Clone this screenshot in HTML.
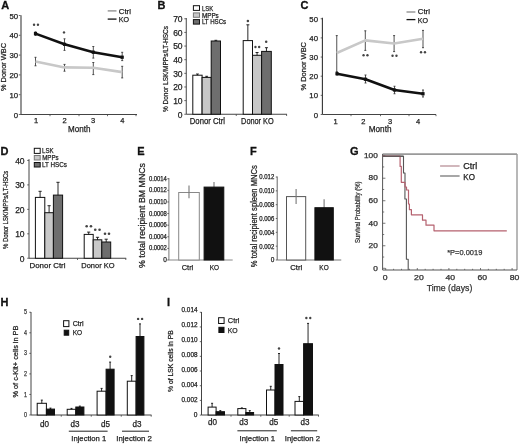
<!DOCTYPE html>
<html><head><meta charset="utf-8"><style>
html,body{margin:0;padding:0;background:#fff;}
svg{display:block;}
text{font-family:"Liberation Sans", sans-serif;}
svg{will-change:transform;}
</style></head><body>
<svg width="520" height="444" viewBox="0 0 520 444">
<rect width="520" height="444" fill="#fff"/>
<text x="1.2" y="9.00" font-size="11" text-anchor="start" fill="#111" stroke="#111" stroke-width="0.3" font-weight="bold">A</text>
<line x1="21.0" y1="15.2" x2="21.0" y2="114.5" stroke="#7a7a7a" stroke-width="1.6"/>
<line x1="20.3" y1="114.5" x2="137" y2="114.5" stroke="#444" stroke-width="1.1"/>
<text x="18.1" y="18.63" font-size="7.8" text-anchor="end" fill="#222" stroke="#222" stroke-width="0.25">50</text>
<line x1="18.8" y1="15.5" x2="20.5" y2="15.5" stroke="#444" stroke-width="0.8"/>
<text x="18.1" y="38.43" font-size="7.8" text-anchor="end" fill="#222" stroke="#222" stroke-width="0.25">40</text>
<line x1="18.8" y1="35.3" x2="20.5" y2="35.3" stroke="#444" stroke-width="0.8"/>
<text x="18.1" y="58.23" font-size="7.8" text-anchor="end" fill="#222" stroke="#222" stroke-width="0.25">30</text>
<line x1="18.8" y1="55.1" x2="20.5" y2="55.1" stroke="#444" stroke-width="0.8"/>
<text x="18.1" y="78.03" font-size="7.8" text-anchor="end" fill="#222" stroke="#222" stroke-width="0.25">20</text>
<line x1="18.8" y1="74.9" x2="20.5" y2="74.9" stroke="#444" stroke-width="0.8"/>
<text x="18.1" y="97.83" font-size="7.8" text-anchor="end" fill="#222" stroke="#222" stroke-width="0.25">10</text>
<line x1="18.8" y1="94.7" x2="20.5" y2="94.7" stroke="#444" stroke-width="0.8"/>
<text x="18.1" y="117.63" font-size="7.8" text-anchor="end" fill="#222" stroke="#222" stroke-width="0.25">0</text>
<line x1="18.8" y1="114.5" x2="20.5" y2="114.5" stroke="#444" stroke-width="0.8"/>
<line x1="50" y1="114.5" x2="50" y2="116.2" stroke="#444" stroke-width="0.8"/>
<line x1="79" y1="114.5" x2="79" y2="116.2" stroke="#444" stroke-width="0.8"/>
<line x1="107.5" y1="114.5" x2="107.5" y2="116.2" stroke="#444" stroke-width="0.8"/>
<line x1="136" y1="114.5" x2="136" y2="116.2" stroke="#444" stroke-width="0.8"/>
<text x="36" y="123.12" font-size="7.5" text-anchor="middle" fill="#222" stroke="#222" stroke-width="0.25">1</text>
<text x="64.5" y="123.12" font-size="7.5" text-anchor="middle" fill="#222" stroke="#222" stroke-width="0.25">2</text>
<text x="93" y="123.12" font-size="7.5" text-anchor="middle" fill="#222" stroke="#222" stroke-width="0.25">3</text>
<text x="122.3" y="123.12" font-size="7.5" text-anchor="middle" fill="#222" stroke="#222" stroke-width="0.25">4</text>
<text x="79.3" y="132.28" font-size="8.8" text-anchor="middle" fill="#222" stroke="#222" stroke-width="0.25" textLength="22.4" lengthAdjust="spacingAndGlyphs">Month</text>
<text transform="translate(5.59,67.00) rotate(-90)" x="0" y="0" font-size="7.4" text-anchor="middle" fill="#222" stroke="#222" stroke-width="0.25" textLength="48" lengthAdjust="spacingAndGlyphs">% Donor WBC</text>
<line x1="35.5" y1="57.3" x2="35.5" y2="65.8" stroke="#333" stroke-width="0.85"/>
<line x1="34.5" y1="57.3" x2="36.5" y2="57.3" stroke="#333" stroke-width="0.85"/>
<line x1="34.5" y1="65.8" x2="36.5" y2="65.8" stroke="#333" stroke-width="0.85"/>
<line x1="64.5" y1="64.4" x2="64.5" y2="71.2" stroke="#333" stroke-width="0.85"/>
<line x1="63.5" y1="64.4" x2="65.5" y2="64.4" stroke="#333" stroke-width="0.85"/>
<line x1="63.5" y1="71.2" x2="65.5" y2="71.2" stroke="#333" stroke-width="0.85"/>
<line x1="93.3" y1="62.5" x2="93.3" y2="74.6" stroke="#333" stroke-width="0.85"/>
<line x1="92.3" y1="62.5" x2="94.3" y2="62.5" stroke="#333" stroke-width="0.85"/>
<line x1="92.3" y1="74.6" x2="94.3" y2="74.6" stroke="#333" stroke-width="0.85"/>
<line x1="122.2" y1="66.3" x2="122.2" y2="77.9" stroke="#333" stroke-width="0.85"/>
<line x1="121.2" y1="66.3" x2="123.2" y2="66.3" stroke="#333" stroke-width="0.85"/>
<line x1="121.2" y1="77.9" x2="123.2" y2="77.9" stroke="#333" stroke-width="0.85"/>
<path d="M35.5,61.5 L64.5,67.4 L93.3,67.8 L122.2,72.1" stroke="#c8c8c8" stroke-width="2.6" fill="none" stroke-linejoin="round"/>
<line x1="35.5" y1="31.8" x2="35.5" y2="35.5" stroke="#333" stroke-width="0.85"/>
<line x1="34.5" y1="31.8" x2="36.5" y2="31.8" stroke="#333" stroke-width="0.85"/>
<line x1="34.5" y1="35.5" x2="36.5" y2="35.5" stroke="#333" stroke-width="0.85"/>
<line x1="64.5" y1="38.8" x2="64.5" y2="50.4" stroke="#333" stroke-width="0.85"/>
<line x1="63.5" y1="38.8" x2="65.5" y2="38.8" stroke="#333" stroke-width="0.85"/>
<line x1="63.5" y1="50.4" x2="65.5" y2="50.4" stroke="#333" stroke-width="0.85"/>
<line x1="93.3" y1="46.5" x2="93.3" y2="58.1" stroke="#333" stroke-width="0.85"/>
<line x1="92.3" y1="46.5" x2="94.3" y2="46.5" stroke="#333" stroke-width="0.85"/>
<line x1="92.3" y1="58.1" x2="94.3" y2="58.1" stroke="#333" stroke-width="0.85"/>
<line x1="122.2" y1="52.3" x2="122.2" y2="60.6" stroke="#333" stroke-width="0.85"/>
<line x1="121.2" y1="52.3" x2="123.2" y2="52.3" stroke="#333" stroke-width="0.85"/>
<line x1="121.2" y1="60.6" x2="123.2" y2="60.6" stroke="#333" stroke-width="0.85"/>
<path d="M35.5,33.6 L64.5,44.3 L93.3,52.2 L122.2,57.2" stroke="#111" stroke-width="2.6" fill="none" stroke-linejoin="round"/>
<rect x="33.9" y="32.0" width="3.20" height="3.20" fill="#111" stroke="none" stroke-width="0"/>
<rect x="62.9" y="42.699999999999996" width="3.20" height="3.20" fill="#111" stroke="none" stroke-width="0"/>
<rect x="91.7" y="50.6" width="3.20" height="3.20" fill="#111" stroke="none" stroke-width="0"/>
<rect x="120.60000000000001" y="55.6" width="3.20" height="3.20" fill="#111" stroke="none" stroke-width="0"/>
<circle cx="34.05" cy="24.7" r="1.2" fill="#444"/>
<circle cx="37.95" cy="24.7" r="1.2" fill="#444"/>
<circle cx="64.00" cy="32.4" r="1.2" fill="#444"/>
<line x1="107.7" y1="10.9" x2="116.5" y2="10.9" stroke="#8a8a8a" stroke-width="1.3"/>
<text x="118.8" y="13.76" font-size="7.6" text-anchor="start" fill="#222" stroke="#222" stroke-width="0.25" textLength="12.1" lengthAdjust="spacingAndGlyphs">Ctrl</text>
<line x1="107.7" y1="19.1" x2="116.5" y2="19.1" stroke="#111" stroke-width="1.3"/>
<text x="118.8" y="22.36" font-size="7.6" text-anchor="start" fill="#222" stroke="#222" stroke-width="0.25" textLength="10.3" lengthAdjust="spacingAndGlyphs">KO</text>
<text x="157.6" y="9.30" font-size="11" text-anchor="start" fill="#111" stroke="#111" stroke-width="0.3" font-weight="bold">B</text>
<line x1="186.25" y1="18" x2="186.25" y2="114.25" stroke="#444" stroke-width="1"/>
<line x1="186.25" y1="114.25" x2="287" y2="114.25" stroke="#444" stroke-width="1"/>
<line x1="286.6" y1="114.25" x2="286.6" y2="116" stroke="#444" stroke-width="0.8"/>
<text x="182.6" y="117.62" font-size="8.5" text-anchor="end" fill="#222" stroke="#222" stroke-width="0.25">0</text>
<line x1="184.3" y1="114.25" x2="186.25" y2="114.25" stroke="#444" stroke-width="0.8"/>
<text x="182.6" y="103.98" font-size="8.5" text-anchor="end" fill="#222" stroke="#222" stroke-width="0.25">10</text>
<line x1="184.3" y1="100.61" x2="186.25" y2="100.61" stroke="#444" stroke-width="0.8"/>
<text x="182.6" y="90.34" font-size="8.5" text-anchor="end" fill="#222" stroke="#222" stroke-width="0.25">20</text>
<line x1="184.3" y1="86.97" x2="186.25" y2="86.97" stroke="#444" stroke-width="0.8"/>
<text x="182.6" y="76.70" font-size="8.5" text-anchor="end" fill="#222" stroke="#222" stroke-width="0.25">30</text>
<line x1="184.3" y1="73.33" x2="186.25" y2="73.33" stroke="#444" stroke-width="0.8"/>
<text x="182.6" y="63.06" font-size="8.5" text-anchor="end" fill="#222" stroke="#222" stroke-width="0.25">40</text>
<line x1="184.3" y1="59.69" x2="186.25" y2="59.69" stroke="#444" stroke-width="0.8"/>
<text x="182.6" y="49.42" font-size="8.5" text-anchor="end" fill="#222" stroke="#222" stroke-width="0.25">50</text>
<line x1="184.3" y1="46.05" x2="186.25" y2="46.05" stroke="#444" stroke-width="0.8"/>
<text x="182.6" y="35.78" font-size="8.5" text-anchor="end" fill="#222" stroke="#222" stroke-width="0.25">60</text>
<line x1="184.3" y1="32.41" x2="186.25" y2="32.41" stroke="#444" stroke-width="0.8"/>
<text x="182.6" y="22.14" font-size="8.5" text-anchor="end" fill="#222" stroke="#222" stroke-width="0.25">70</text>
<line x1="184.3" y1="18.769999999999996" x2="186.25" y2="18.769999999999996" stroke="#444" stroke-width="0.8"/>
<line x1="236.25" y1="114.25" x2="236.25" y2="116" stroke="#444" stroke-width="0.8"/>
<text x="207.4" y="124.44" font-size="8.4" text-anchor="middle" fill="#222" stroke="#222" stroke-width="0.25" textLength="35.2" lengthAdjust="spacingAndGlyphs">Donor Ctrl</text>
<text x="257.4" y="124.34" font-size="8.4" text-anchor="middle" fill="#222" stroke="#222" stroke-width="0.25" textLength="32.6" lengthAdjust="spacingAndGlyphs">Donor KO</text>
<text transform="translate(167.56,69.00) rotate(-90)" x="0" y="0" font-size="7.3" text-anchor="middle" fill="#222" stroke="#222" stroke-width="0.25" textLength="86" lengthAdjust="spacingAndGlyphs">% Donor LSK/MPPs/LT-HSCs</text>
<line x1="197.45" y1="74.0" x2="197.45" y2="76.4" stroke="#111" stroke-width="0.9"/>
<line x1="196.04999999999998" y1="74.0" x2="198.85" y2="74.0" stroke="#111" stroke-width="0.9"/>
<line x1="196.04999999999998" y1="76.4" x2="198.85" y2="76.4" stroke="#111" stroke-width="0.9"/>
<line x1="206.65" y1="76.3" x2="206.65" y2="78.5" stroke="#111" stroke-width="0.9"/>
<line x1="205.25" y1="76.3" x2="208.05" y2="76.3" stroke="#111" stroke-width="0.9"/>
<line x1="205.25" y1="78.5" x2="208.05" y2="78.5" stroke="#111" stroke-width="0.9"/>
<line x1="215.85" y1="40.3" x2="215.85" y2="41.7" stroke="#111" stroke-width="0.9"/>
<line x1="214.45" y1="40.3" x2="217.25" y2="40.3" stroke="#111" stroke-width="0.9"/>
<line x1="214.45" y1="41.7" x2="217.25" y2="41.7" stroke="#111" stroke-width="0.9"/>
<rect x="192.8" y="75.2" width="9.30" height="39.05" fill="#fff" stroke="#111" stroke-width="1"/>
<rect x="202.1" y="77.4" width="9.10" height="36.85" fill="#c8c8c8" stroke="#111" stroke-width="1"/>
<rect x="211.2" y="41.0" width="9.30" height="73.25" fill="#6e6e6e" stroke="#111" stroke-width="1"/>
<line x1="247.85" y1="24.8" x2="247.85" y2="56.4" stroke="#111" stroke-width="0.9"/>
<line x1="246.35" y1="24.8" x2="249.35" y2="24.8" stroke="#111" stroke-width="0.9"/>
<line x1="246.35" y1="56.4" x2="249.35" y2="56.4" stroke="#111" stroke-width="0.9"/>
<line x1="257.05" y1="52.5" x2="257.05" y2="58.1" stroke="#111" stroke-width="0.9"/>
<line x1="255.55" y1="52.5" x2="258.55" y2="52.5" stroke="#111" stroke-width="0.9"/>
<line x1="255.55" y1="58.1" x2="258.55" y2="58.1" stroke="#111" stroke-width="0.9"/>
<line x1="266.45" y1="47.7" x2="266.45" y2="55.1" stroke="#111" stroke-width="0.9"/>
<line x1="264.95" y1="47.7" x2="267.95" y2="47.7" stroke="#111" stroke-width="0.9"/>
<line x1="264.95" y1="55.1" x2="267.95" y2="55.1" stroke="#111" stroke-width="0.9"/>
<rect x="243.2" y="40.6" width="9.30" height="73.65" fill="#fff" stroke="#111" stroke-width="1"/>
<rect x="252.5" y="55.3" width="9.10" height="58.95" fill="#c8c8c8" stroke="#111" stroke-width="1"/>
<rect x="261.6" y="51.4" width="9.70" height="62.85" fill="#6e6e6e" stroke="#111" stroke-width="1"/>
<circle cx="247.85" cy="21.1" r="1.25" fill="#444"/>
<circle cx="255.45" cy="47.0" r="1.2" fill="#444"/>
<circle cx="259.15" cy="47.0" r="1.2" fill="#444"/>
<circle cx="266.20" cy="41.8" r="1.25" fill="#444"/>
<rect x="193.4" y="5.7" width="6.10" height="4.70" fill="#fff" stroke="#111" stroke-width="1"/>
<rect x="193.4" y="12.9" width="6.10" height="4.40" fill="#c8c8c8" stroke="#777" stroke-width="1"/>
<rect x="193.4" y="19.6" width="6.10" height="4.50" fill="#6e6e6e" stroke="#111" stroke-width="1"/>
<text x="201.9" y="10.73" font-size="6.8" text-anchor="start" fill="#222" stroke="#222" stroke-width="0.25" textLength="11.2" lengthAdjust="spacingAndGlyphs">LSK</text>
<text x="201.9" y="17.68" font-size="6.8" text-anchor="start" fill="#222" stroke="#222" stroke-width="0.25" textLength="16.9" lengthAdjust="spacingAndGlyphs">MPPs</text>
<text x="201.9" y="24.38" font-size="6.8" text-anchor="start" fill="#222" stroke="#222" stroke-width="0.25" textLength="24.3" lengthAdjust="spacingAndGlyphs">LT HSCs</text>
<text x="300.6" y="9.10" font-size="11" text-anchor="start" fill="#111" stroke="#111" stroke-width="0.3" font-weight="bold">C</text>
<line x1="322.4" y1="17.7" x2="322.4" y2="114.5" stroke="#333" stroke-width="1.1"/>
<line x1="322.5" y1="114.5" x2="436" y2="114.5" stroke="#444" stroke-width="1"/>
<text x="318.0" y="117.53" font-size="7.8" text-anchor="end" fill="#222" stroke="#222" stroke-width="0.25">0</text>
<line x1="320.7" y1="114.5" x2="322.5" y2="114.5" stroke="#444" stroke-width="0.8"/>
<text x="318.0" y="98.38" font-size="7.8" text-anchor="end" fill="#222" stroke="#222" stroke-width="0.25">10</text>
<line x1="320.7" y1="95.35" x2="322.5" y2="95.35" stroke="#444" stroke-width="0.8"/>
<text x="318.0" y="79.23" font-size="7.8" text-anchor="end" fill="#222" stroke="#222" stroke-width="0.25">20</text>
<line x1="320.7" y1="76.2" x2="322.5" y2="76.2" stroke="#444" stroke-width="0.8"/>
<text x="318.0" y="60.08" font-size="7.8" text-anchor="end" fill="#222" stroke="#222" stroke-width="0.25">30</text>
<line x1="320.7" y1="57.05" x2="322.5" y2="57.05" stroke="#444" stroke-width="0.8"/>
<text x="318.0" y="40.93" font-size="7.8" text-anchor="end" fill="#222" stroke="#222" stroke-width="0.25">40</text>
<line x1="320.7" y1="37.900000000000006" x2="322.5" y2="37.900000000000006" stroke="#444" stroke-width="0.8"/>
<text x="318.0" y="21.78" font-size="7.8" text-anchor="end" fill="#222" stroke="#222" stroke-width="0.25">50</text>
<line x1="320.7" y1="18.75" x2="322.5" y2="18.75" stroke="#444" stroke-width="0.8"/>
<line x1="351" y1="114.5" x2="351" y2="116.2" stroke="#444" stroke-width="0.8"/>
<line x1="380.5" y1="114.5" x2="380.5" y2="116.2" stroke="#444" stroke-width="0.8"/>
<line x1="409" y1="114.5" x2="409" y2="116.2" stroke="#444" stroke-width="0.8"/>
<line x1="436" y1="114.5" x2="436" y2="116.2" stroke="#444" stroke-width="0.8"/>
<text x="335.5" y="123.62" font-size="7.5" text-anchor="middle" fill="#222" stroke="#222" stroke-width="0.25">1</text>
<text x="363.3" y="123.62" font-size="7.5" text-anchor="middle" fill="#222" stroke="#222" stroke-width="0.25">2</text>
<text x="390.2" y="123.62" font-size="7.5" text-anchor="middle" fill="#222" stroke="#222" stroke-width="0.25">3</text>
<text x="418" y="123.62" font-size="7.5" text-anchor="middle" fill="#222" stroke="#222" stroke-width="0.25">4</text>
<text x="380.1" y="132.48" font-size="8.8" text-anchor="middle" fill="#222" stroke="#222" stroke-width="0.25" textLength="22.8" lengthAdjust="spacingAndGlyphs">Month</text>
<text transform="translate(305.99,66.25) rotate(-90)" x="0" y="0" font-size="7.4" text-anchor="middle" fill="#222" stroke="#222" stroke-width="0.25" textLength="48.5" lengthAdjust="spacingAndGlyphs">% Donor WBC</text>
<line x1="336.75" y1="35.6" x2="336.75" y2="71.5" stroke="#333" stroke-width="0.85"/>
<line x1="335.75" y1="35.6" x2="337.75" y2="35.6" stroke="#333" stroke-width="0.85"/>
<line x1="335.75" y1="71.5" x2="337.75" y2="71.5" stroke="#333" stroke-width="0.85"/>
<line x1="365.3" y1="30.8" x2="365.3" y2="50.4" stroke="#333" stroke-width="0.85"/>
<line x1="364.3" y1="30.8" x2="366.3" y2="30.8" stroke="#333" stroke-width="0.85"/>
<line x1="364.3" y1="50.4" x2="366.3" y2="50.4" stroke="#333" stroke-width="0.85"/>
<line x1="394.1" y1="35.6" x2="394.1" y2="51.6" stroke="#333" stroke-width="0.85"/>
<line x1="393.1" y1="35.6" x2="395.1" y2="35.6" stroke="#333" stroke-width="0.85"/>
<line x1="393.1" y1="51.6" x2="395.1" y2="51.6" stroke="#333" stroke-width="0.85"/>
<line x1="423" y1="30.4" x2="423" y2="47.7" stroke="#333" stroke-width="0.85"/>
<line x1="422.0" y1="30.4" x2="424.0" y2="30.4" stroke="#333" stroke-width="0.85"/>
<line x1="422.0" y1="47.7" x2="424.0" y2="47.7" stroke="#333" stroke-width="0.85"/>
<path d="M336.75,53 L365.3,40.4 L394.1,43.5 L423,38.8" stroke="#c8c8c8" stroke-width="2.6" fill="none" stroke-linejoin="round"/>
<circle cx="363.55" cy="55.2" r="1.2" fill="#444"/>
<circle cx="367.45" cy="55.2" r="1.2" fill="#444"/>
<circle cx="392.55" cy="55.7" r="1.2" fill="#444"/>
<circle cx="396.45" cy="55.7" r="1.2" fill="#444"/>
<circle cx="421.05" cy="52.2" r="1.2" fill="#444"/>
<circle cx="424.95" cy="52.2" r="1.2" fill="#444"/>
<line x1="337" y1="72.5" x2="337" y2="75" stroke="#333" stroke-width="0.85"/>
<line x1="336.0" y1="72.5" x2="338.0" y2="72.5" stroke="#333" stroke-width="0.85"/>
<line x1="336.0" y1="75" x2="338.0" y2="75" stroke="#333" stroke-width="0.85"/>
<line x1="365.5" y1="75" x2="365.5" y2="83" stroke="#333" stroke-width="0.85"/>
<line x1="364.5" y1="75" x2="366.5" y2="75" stroke="#333" stroke-width="0.85"/>
<line x1="364.5" y1="83" x2="366.5" y2="83" stroke="#333" stroke-width="0.85"/>
<line x1="394.5" y1="86.25" x2="394.5" y2="93.75" stroke="#333" stroke-width="0.85"/>
<line x1="393.5" y1="86.25" x2="395.5" y2="86.25" stroke="#333" stroke-width="0.85"/>
<line x1="393.5" y1="93.75" x2="395.5" y2="93.75" stroke="#333" stroke-width="0.85"/>
<line x1="423" y1="90" x2="423" y2="97" stroke="#333" stroke-width="0.85"/>
<line x1="422.0" y1="90" x2="424.0" y2="90" stroke="#333" stroke-width="0.85"/>
<line x1="422.0" y1="97" x2="424.0" y2="97" stroke="#333" stroke-width="0.85"/>
<path d="M337,73.75 L365.5,79.25 L394.5,90 L423,93.75" stroke="#111" stroke-width="2.6" fill="none" stroke-linejoin="round"/>
<rect x="335.4" y="72.15" width="3.20" height="3.20" fill="#111" stroke="none" stroke-width="0"/>
<rect x="363.9" y="77.65" width="3.20" height="3.20" fill="#111" stroke="none" stroke-width="0"/>
<rect x="392.9" y="88.4" width="3.20" height="3.20" fill="#111" stroke="none" stroke-width="0"/>
<rect x="421.4" y="92.15" width="3.20" height="3.20" fill="#111" stroke="none" stroke-width="0"/>
<line x1="406.5" y1="12.0" x2="415.4" y2="12.0" stroke="#8a8a8a" stroke-width="1.3"/>
<text x="417.8" y="14.26" font-size="7.6" text-anchor="start" fill="#222" stroke="#222" stroke-width="0.25" textLength="12.1" lengthAdjust="spacingAndGlyphs">Ctrl</text>
<line x1="406.5" y1="19.6" x2="415.4" y2="19.6" stroke="#111" stroke-width="1.3"/>
<text x="417.8" y="22.76" font-size="7.6" text-anchor="start" fill="#222" stroke="#222" stroke-width="0.25" textLength="10.3" lengthAdjust="spacingAndGlyphs">KO</text>
<text x="0.6" y="154.80" font-size="11" text-anchor="start" fill="#111" stroke="#111" stroke-width="0.3" font-weight="bold">D</text>
<line x1="29" y1="159.2" x2="29" y2="258.25" stroke="#444" stroke-width="1"/>
<line x1="29" y1="258.25" x2="126.2" y2="258.25" stroke="#444" stroke-width="1"/>
<line x1="125.8" y1="258.25" x2="125.8" y2="260" stroke="#444" stroke-width="0.8"/>
<text x="24.6" y="261.62" font-size="8.5" text-anchor="end" fill="#222" stroke="#222" stroke-width="0.25">0</text>
<line x1="27.2" y1="258.25" x2="29" y2="258.25" stroke="#444" stroke-width="0.8"/>
<text x="24.6" y="237.18" font-size="8.5" text-anchor="end" fill="#222" stroke="#222" stroke-width="0.25">10</text>
<line x1="27.2" y1="233.8" x2="29" y2="233.8" stroke="#444" stroke-width="0.8"/>
<text x="24.6" y="212.72" font-size="8.5" text-anchor="end" fill="#222" stroke="#222" stroke-width="0.25">20</text>
<line x1="27.2" y1="209.35" x2="29" y2="209.35" stroke="#444" stroke-width="0.8"/>
<text x="24.6" y="188.28" font-size="8.5" text-anchor="end" fill="#222" stroke="#222" stroke-width="0.25">30</text>
<line x1="27.2" y1="184.9" x2="29" y2="184.9" stroke="#444" stroke-width="0.8"/>
<text x="24.6" y="163.82" font-size="8.5" text-anchor="end" fill="#222" stroke="#222" stroke-width="0.25">40</text>
<line x1="27.2" y1="160.45" x2="29" y2="160.45" stroke="#444" stroke-width="0.8"/>
<line x1="77.5" y1="258.25" x2="77.5" y2="260" stroke="#444" stroke-width="0.8"/>
<text x="47.5" y="268.30" font-size="8" text-anchor="middle" fill="#222" stroke="#222" stroke-width="0.25" textLength="36" lengthAdjust="spacingAndGlyphs">Donor Ctrl</text>
<text x="97.9" y="268.30" font-size="8" text-anchor="middle" fill="#222" stroke="#222" stroke-width="0.25" textLength="33.2" lengthAdjust="spacingAndGlyphs">Donor KO</text>
<text transform="translate(7.78,209.85) rotate(-90)" x="0" y="0" font-size="6.8" text-anchor="middle" fill="#222" stroke="#222" stroke-width="0.25" textLength="78.3" lengthAdjust="spacingAndGlyphs">% Donor LSK/MPPs/LT-HSCs</text>
<line x1="40.1" y1="191.3" x2="40.1" y2="203.5" stroke="#111" stroke-width="0.9"/>
<line x1="38.5" y1="191.3" x2="41.7" y2="191.3" stroke="#111" stroke-width="0.9"/>
<line x1="38.5" y1="203.5" x2="41.7" y2="203.5" stroke="#111" stroke-width="0.9"/>
<line x1="49.1" y1="205.7" x2="49.1" y2="219.7" stroke="#111" stroke-width="0.9"/>
<line x1="47.5" y1="205.7" x2="50.7" y2="205.7" stroke="#111" stroke-width="0.9"/>
<line x1="47.5" y1="219.7" x2="50.7" y2="219.7" stroke="#111" stroke-width="0.9"/>
<line x1="58.0" y1="182.3" x2="58.0" y2="207.9" stroke="#111" stroke-width="0.9"/>
<line x1="56.4" y1="182.3" x2="59.6" y2="182.3" stroke="#111" stroke-width="0.9"/>
<line x1="56.4" y1="207.9" x2="59.6" y2="207.9" stroke="#111" stroke-width="0.9"/>
<rect x="35.4" y="197.4" width="9.40" height="60.85" fill="#fff" stroke="#111" stroke-width="1"/>
<rect x="44.8" y="212.7" width="8.60" height="45.55" fill="#c8c8c8" stroke="#111" stroke-width="1"/>
<rect x="53.4" y="195.1" width="9.20" height="63.15" fill="#6e6e6e" stroke="#111" stroke-width="1"/>
<line x1="88.7" y1="232.1" x2="88.7" y2="236.7" stroke="#111" stroke-width="0.9"/>
<line x1="87.10000000000001" y1="232.1" x2="90.3" y2="232.1" stroke="#111" stroke-width="0.9"/>
<line x1="87.10000000000001" y1="236.7" x2="90.3" y2="236.7" stroke="#111" stroke-width="0.9"/>
<line x1="97.5" y1="237.3" x2="97.5" y2="242.3" stroke="#111" stroke-width="0.9"/>
<line x1="95.9" y1="237.3" x2="99.1" y2="237.3" stroke="#111" stroke-width="0.9"/>
<line x1="95.9" y1="242.3" x2="99.1" y2="242.3" stroke="#111" stroke-width="0.9"/>
<line x1="106.2" y1="239.2" x2="106.2" y2="244.8" stroke="#111" stroke-width="0.9"/>
<line x1="104.60000000000001" y1="239.2" x2="107.8" y2="239.2" stroke="#111" stroke-width="0.9"/>
<line x1="104.60000000000001" y1="244.8" x2="107.8" y2="244.8" stroke="#111" stroke-width="0.9"/>
<rect x="84.2" y="234.4" width="9.00" height="23.85" fill="#fff" stroke="#111" stroke-width="1"/>
<rect x="93.2" y="239.8" width="8.60" height="18.45" fill="#c8c8c8" stroke="#111" stroke-width="1"/>
<rect x="101.8" y="242" width="8.90" height="16.25" fill="#6e6e6e" stroke="#111" stroke-width="1"/>
<circle cx="86.65" cy="226.3" r="1.3" fill="#444"/>
<circle cx="90.95" cy="226.3" r="1.3" fill="#444"/>
<circle cx="95.25" cy="229.7" r="1.3" fill="#444"/>
<circle cx="99.55" cy="229.7" r="1.3" fill="#444"/>
<circle cx="105.00" cy="233.8" r="1.3" fill="#444"/>
<circle cx="109.00" cy="233.8" r="1.3" fill="#444"/>
<rect x="34.3" y="148.3" width="5.90" height="5.10" fill="#fff" stroke="#111" stroke-width="1"/>
<rect x="34.3" y="155.5" width="5.90" height="4.50" fill="#c8c8c8" stroke="#777" stroke-width="1"/>
<rect x="34.3" y="162.5" width="5.90" height="4.50" fill="#6e6e6e" stroke="#111" stroke-width="1"/>
<text x="42" y="153.42" font-size="7.2" text-anchor="start" fill="#222" stroke="#222" stroke-width="0.25" textLength="11.5" lengthAdjust="spacingAndGlyphs">LSK</text>
<text x="42.2" y="160.32" font-size="7.2" text-anchor="start" fill="#222" stroke="#222" stroke-width="0.25" textLength="16.5" lengthAdjust="spacingAndGlyphs">MPPs</text>
<text x="42" y="167.02" font-size="7.2" text-anchor="start" fill="#222" stroke="#222" stroke-width="0.25" textLength="25" lengthAdjust="spacingAndGlyphs">LT HSCs</text>
<text x="137.3" y="154.50" font-size="11" text-anchor="start" fill="#111" stroke="#111" stroke-width="0.3" font-weight="bold">E</text>
<line x1="168.9" y1="178" x2="168.9" y2="260" stroke="#777" stroke-width="1"/>
<line x1="168.9" y1="260" x2="232.7" y2="260" stroke="#888" stroke-width="1"/>
<text x="166.9" y="262.07" font-size="6.5" text-anchor="end" fill="#222" stroke="#222" stroke-width="0.25">0</text>
<line x1="167.3" y1="260.0" x2="168.9" y2="260.0" stroke="#444" stroke-width="0.8"/>
<text x="166.9" y="250.47" font-size="6.5" text-anchor="end" fill="#222" stroke="#222" stroke-width="0.25" textLength="18" lengthAdjust="spacingAndGlyphs">0.0002</text>
<line x1="167.3" y1="248.393" x2="168.9" y2="248.393" stroke="#444" stroke-width="0.8"/>
<text x="166.9" y="238.86" font-size="6.5" text-anchor="end" fill="#222" stroke="#222" stroke-width="0.25" textLength="18" lengthAdjust="spacingAndGlyphs">0.0004</text>
<line x1="167.3" y1="236.786" x2="168.9" y2="236.786" stroke="#444" stroke-width="0.8"/>
<text x="166.9" y="227.25" font-size="6.5" text-anchor="end" fill="#222" stroke="#222" stroke-width="0.25" textLength="18" lengthAdjust="spacingAndGlyphs">0.0006</text>
<line x1="167.3" y1="225.179" x2="168.9" y2="225.179" stroke="#444" stroke-width="0.8"/>
<text x="166.9" y="215.65" font-size="6.5" text-anchor="end" fill="#222" stroke="#222" stroke-width="0.25" textLength="18" lengthAdjust="spacingAndGlyphs">0.0008</text>
<line x1="167.3" y1="213.572" x2="168.9" y2="213.572" stroke="#444" stroke-width="0.8"/>
<text x="166.9" y="204.04" font-size="6.5" text-anchor="end" fill="#222" stroke="#222" stroke-width="0.25" textLength="18" lengthAdjust="spacingAndGlyphs">0.0010</text>
<line x1="167.3" y1="201.965" x2="168.9" y2="201.965" stroke="#444" stroke-width="0.8"/>
<text x="166.9" y="192.43" font-size="6.5" text-anchor="end" fill="#222" stroke="#222" stroke-width="0.25" textLength="18" lengthAdjust="spacingAndGlyphs">0.0012</text>
<line x1="167.3" y1="190.358" x2="168.9" y2="190.358" stroke="#444" stroke-width="0.8"/>
<text x="166.9" y="180.83" font-size="6.5" text-anchor="end" fill="#222" stroke="#222" stroke-width="0.25" textLength="18" lengthAdjust="spacingAndGlyphs">0.0014</text>
<line x1="167.3" y1="178.751" x2="168.9" y2="178.751" stroke="#444" stroke-width="0.8"/>
<rect x="178.7" y="192.5" width="20.60" height="67.50" fill="#fff" stroke="#888" stroke-width="1"/>
<line x1="189.0" y1="185.5" x2="189.0" y2="198.3" stroke="#777" stroke-width="1.1"/>
<line x1="214.0" y1="182.1" x2="214.0" y2="187.5" stroke="#777" stroke-width="1.1"/>
<rect x="204.1" y="187.1" width="19.70" height="72.90" fill="#111" stroke="#111" stroke-width="1"/>
<text x="187.5" y="269.80" font-size="8" text-anchor="middle" fill="#222" stroke="#222" stroke-width="0.25" textLength="11.6" lengthAdjust="spacingAndGlyphs">Ctrl</text>
<text x="214.4" y="269.80" font-size="8" text-anchor="middle" fill="#222" stroke="#222" stroke-width="0.25" textLength="9.3" lengthAdjust="spacingAndGlyphs">KO</text>
<text transform="translate(145.08,215.50) rotate(-90)" x="0" y="0" font-size="8.8" text-anchor="middle" fill="#222" stroke="#222" stroke-width="0.25" textLength="105" lengthAdjust="spacingAndGlyphs">% total recipient BM MNCs</text>
<text x="249.9" y="154.50" font-size="11" text-anchor="start" fill="#111" stroke="#111" stroke-width="0.3" font-weight="bold">F</text>
<line x1="277.2" y1="176.5" x2="277.2" y2="260" stroke="#666" stroke-width="1"/>
<line x1="277.2" y1="260" x2="341.25" y2="260" stroke="#777" stroke-width="1"/>
<text x="274.3" y="262.38" font-size="6.5" text-anchor="end" fill="#222" stroke="#222" stroke-width="0.25">0</text>
<line x1="275.8" y1="260.0" x2="277.2" y2="260.0" stroke="#444" stroke-width="0.8"/>
<text x="274.3" y="248.54" font-size="6.5" text-anchor="end" fill="#222" stroke="#222" stroke-width="0.25" textLength="15" lengthAdjust="spacingAndGlyphs">0.002</text>
<line x1="275.8" y1="246.17" x2="277.2" y2="246.17" stroke="#444" stroke-width="0.8"/>
<text x="274.3" y="234.72" font-size="6.5" text-anchor="end" fill="#222" stroke="#222" stroke-width="0.25" textLength="15" lengthAdjust="spacingAndGlyphs">0.004</text>
<line x1="275.8" y1="232.34" x2="277.2" y2="232.34" stroke="#444" stroke-width="0.8"/>
<text x="274.3" y="220.88" font-size="6.5" text-anchor="end" fill="#222" stroke="#222" stroke-width="0.25" textLength="15" lengthAdjust="spacingAndGlyphs">0.006</text>
<line x1="275.8" y1="218.51" x2="277.2" y2="218.51" stroke="#444" stroke-width="0.8"/>
<text x="274.3" y="207.06" font-size="6.5" text-anchor="end" fill="#222" stroke="#222" stroke-width="0.25" textLength="15" lengthAdjust="spacingAndGlyphs">0.008</text>
<line x1="275.8" y1="204.68" x2="277.2" y2="204.68" stroke="#444" stroke-width="0.8"/>
<text x="274.3" y="193.22" font-size="6.5" text-anchor="end" fill="#222" stroke="#222" stroke-width="0.25" textLength="15" lengthAdjust="spacingAndGlyphs">0.010</text>
<line x1="275.8" y1="190.85" x2="277.2" y2="190.85" stroke="#444" stroke-width="0.8"/>
<text x="274.3" y="179.39" font-size="6.5" text-anchor="end" fill="#222" stroke="#222" stroke-width="0.25" textLength="15" lengthAdjust="spacingAndGlyphs">0.012</text>
<line x1="275.8" y1="177.01999999999998" x2="277.2" y2="177.01999999999998" stroke="#444" stroke-width="0.8"/>
<rect x="286.5" y="196.6" width="19.20" height="63.40" fill="#fff" stroke="#555" stroke-width="1"/>
<line x1="296.1" y1="189.1" x2="296.1" y2="204" stroke="#777" stroke-width="1.1"/>
<line x1="324.1" y1="199.2" x2="324.1" y2="208" stroke="#777" stroke-width="1.1"/>
<rect x="314.9" y="207.7" width="18.40" height="52.30" fill="#111" stroke="#111" stroke-width="1"/>
<text x="296.25" y="269.80" font-size="8" text-anchor="middle" fill="#222" stroke="#222" stroke-width="0.25" textLength="12" lengthAdjust="spacingAndGlyphs">Ctrl</text>
<text x="324" y="269.80" font-size="8" text-anchor="middle" fill="#222" stroke="#222" stroke-width="0.25" textLength="9.3" lengthAdjust="spacingAndGlyphs">KO</text>
<text transform="translate(257.20,216.20) rotate(-90)" x="0" y="0" font-size="8.3" text-anchor="middle" fill="#222" stroke="#222" stroke-width="0.25" textLength="102" lengthAdjust="spacingAndGlyphs">% total recipient spleen MNCs</text>
<text x="350.0" y="155.40" font-size="11" text-anchor="start" fill="#111" stroke="#111" stroke-width="0.3" font-weight="bold">G</text>
<line x1="382.6" y1="154.2" x2="517" y2="154.2" stroke="#9a9a9a" stroke-width="1.7"/>
<line x1="517" y1="154" x2="517" y2="270" stroke="#9a9a9a" stroke-width="1.4"/>
<line x1="382.6" y1="154" x2="382.6" y2="270" stroke="#555" stroke-width="1"/>
<line x1="382.6" y1="270" x2="517" y2="270" stroke="#555" stroke-width="1"/>
<line x1="382.6" y1="268.3" x2="385.4" y2="268.3" stroke="#555" stroke-width="0.8"/>
<line x1="382.6" y1="257.04" x2="384.2" y2="257.04" stroke="#555" stroke-width="0.8"/>
<line x1="382.6" y1="245.78" x2="385.4" y2="245.78" stroke="#555" stroke-width="0.8"/>
<line x1="382.6" y1="234.52" x2="384.2" y2="234.52" stroke="#555" stroke-width="0.8"/>
<line x1="382.6" y1="223.26000000000002" x2="385.4" y2="223.26000000000002" stroke="#555" stroke-width="0.8"/>
<line x1="382.6" y1="212.0" x2="384.2" y2="212.0" stroke="#555" stroke-width="0.8"/>
<line x1="382.6" y1="200.74" x2="385.4" y2="200.74" stroke="#555" stroke-width="0.8"/>
<line x1="382.6" y1="189.48000000000002" x2="384.2" y2="189.48000000000002" stroke="#555" stroke-width="0.8"/>
<line x1="382.6" y1="178.22000000000003" x2="385.4" y2="178.22000000000003" stroke="#555" stroke-width="0.8"/>
<line x1="382.6" y1="166.96" x2="384.2" y2="166.96" stroke="#555" stroke-width="0.8"/>
<line x1="382.6" y1="155.70000000000002" x2="385.4" y2="155.70000000000002" stroke="#555" stroke-width="0.8"/>
<text x="377.8" y="270.54" font-size="6.4" text-anchor="end" fill="#333" stroke="#333" stroke-width="0.25" textLength="4.6" lengthAdjust="spacingAndGlyphs">0</text>
<text x="377.8" y="248.02" font-size="6.4" text-anchor="end" fill="#333" stroke="#333" stroke-width="0.25" textLength="9.2" lengthAdjust="spacingAndGlyphs">20</text>
<text x="377.8" y="225.50" font-size="6.4" text-anchor="end" fill="#333" stroke="#333" stroke-width="0.25" textLength="9.2" lengthAdjust="spacingAndGlyphs">40</text>
<text x="377.8" y="202.98" font-size="6.4" text-anchor="end" fill="#333" stroke="#333" stroke-width="0.25" textLength="9.2" lengthAdjust="spacingAndGlyphs">60</text>
<text x="377.8" y="180.46" font-size="6.4" text-anchor="end" fill="#333" stroke="#333" stroke-width="0.25" textLength="9.2" lengthAdjust="spacingAndGlyphs">80</text>
<text x="377.8" y="157.94" font-size="6.4" text-anchor="end" fill="#333" stroke="#333" stroke-width="0.25" textLength="13.799999999999999" lengthAdjust="spacingAndGlyphs">100</text>
<line x1="385.7" y1="270" x2="385.7" y2="268" stroke="#555" stroke-width="0.8"/>
<line x1="393.59999999999997" y1="270" x2="393.59999999999997" y2="268.8" stroke="#555" stroke-width="0.8"/>
<line x1="401.5" y1="270" x2="401.5" y2="268.8" stroke="#555" stroke-width="0.8"/>
<line x1="409.4" y1="270" x2="409.4" y2="268.8" stroke="#555" stroke-width="0.8"/>
<line x1="417.3" y1="270" x2="417.3" y2="268" stroke="#555" stroke-width="0.8"/>
<line x1="425.2" y1="270" x2="425.2" y2="268.8" stroke="#555" stroke-width="0.8"/>
<line x1="433.1" y1="270" x2="433.1" y2="268.8" stroke="#555" stroke-width="0.8"/>
<line x1="441.0" y1="270" x2="441.0" y2="268.8" stroke="#555" stroke-width="0.8"/>
<line x1="448.9" y1="270" x2="448.9" y2="268" stroke="#555" stroke-width="0.8"/>
<line x1="456.8" y1="270" x2="456.8" y2="268.8" stroke="#555" stroke-width="0.8"/>
<line x1="464.7" y1="270" x2="464.7" y2="268.8" stroke="#555" stroke-width="0.8"/>
<line x1="472.6" y1="270" x2="472.6" y2="268.8" stroke="#555" stroke-width="0.8"/>
<line x1="480.5" y1="270" x2="480.5" y2="268" stroke="#555" stroke-width="0.8"/>
<line x1="488.4" y1="270" x2="488.4" y2="268.8" stroke="#555" stroke-width="0.8"/>
<line x1="496.3" y1="270" x2="496.3" y2="268.8" stroke="#555" stroke-width="0.8"/>
<line x1="504.2" y1="270" x2="504.2" y2="268.8" stroke="#555" stroke-width="0.8"/>
<line x1="512.1" y1="270" x2="512.1" y2="268" stroke="#555" stroke-width="0.8"/>
<text x="385.1" y="279.94" font-size="6.4" text-anchor="middle" fill="#333" stroke="#333" stroke-width="0.25" textLength="4.8" lengthAdjust="spacingAndGlyphs">0</text>
<text x="418.9" y="279.94" font-size="6.4" text-anchor="middle" fill="#333" stroke="#333" stroke-width="0.25" textLength="9.6" lengthAdjust="spacingAndGlyphs">20</text>
<text x="450.3" y="279.94" font-size="6.4" text-anchor="middle" fill="#333" stroke="#333" stroke-width="0.25" textLength="9.6" lengthAdjust="spacingAndGlyphs">40</text>
<text x="482.2" y="279.94" font-size="6.4" text-anchor="middle" fill="#333" stroke="#333" stroke-width="0.25" textLength="9.6" lengthAdjust="spacingAndGlyphs">60</text>
<text x="514.5" y="279.94" font-size="6.4" text-anchor="middle" fill="#333" stroke="#333" stroke-width="0.25" textLength="9.6" lengthAdjust="spacingAndGlyphs">80</text>
<text x="449.5" y="291.28" font-size="8.8" text-anchor="middle" fill="#333" stroke="#333" stroke-width="0.25" textLength="45.6" lengthAdjust="spacingAndGlyphs">Time (days)</text>
<text transform="translate(360.05,212.30) rotate(-90)" x="0" y="0" font-size="7.0" text-anchor="middle" fill="#333" stroke="#333" stroke-width="0.25" textLength="61.4" lengthAdjust="spacingAndGlyphs">Survival Probability (%)</text>
<text x="464.75" y="254.69" font-size="7.7" text-anchor="middle" fill="#333" stroke="#333" stroke-width="0.25" textLength="35.1" lengthAdjust="spacingAndGlyphs">*P=0.0019</text>
<path d="M382.6,156.2 L403.5,156.2 L403.5,173 L405,173 L405,182.7 L404.9,199 L406.4,199 L406.4,259.2 L408.2,259.2 L408.2,270" stroke="#555" stroke-width="1.1" fill="none" stroke-linejoin="round"/>
<path d="M382.6,156.2 L400.1,156.2 L400.1,166.4 L401.3,166.4 L401.3,182.3 L405,182.3 L405,187 L406.5,187 L406.5,190 L408.5,190 L408.5,204 L409.4,204 L409.4,209.7 L411.4,209.7 L411.4,214.8 L422.5,214.8 L422.5,220.2 L426,220.2 L426,225.2 L434,225.2 L434,230.8 L506.8,230.8" stroke="#b5616f" stroke-width="1.2" fill="none" stroke-linejoin="round"/>
<line x1="382.6" y1="156.2" x2="403.5" y2="156.2" stroke="#555" stroke-width="1.3"/>
<line x1="440.1" y1="166" x2="459.6" y2="166" stroke="#b89098" stroke-width="1.3"/>
<text x="463.3" y="168.97" font-size="8.2" text-anchor="start" fill="#222" stroke="#222" stroke-width="0.25" textLength="13.9" lengthAdjust="spacingAndGlyphs">Ctrl</text>
<line x1="440.1" y1="176" x2="459.6" y2="176" stroke="#777" stroke-width="1.3"/>
<text x="463.3" y="179.57" font-size="8.2" text-anchor="start" fill="#222" stroke="#222" stroke-width="0.25" textLength="11.6" lengthAdjust="spacingAndGlyphs">KO</text>
<text x="0.6" y="306.00" font-size="11" text-anchor="start" fill="#111" stroke="#111" stroke-width="0.3" font-weight="bold">H</text>
<line x1="31" y1="312" x2="31" y2="415" stroke="#444" stroke-width="1"/>
<line x1="31" y1="415" x2="151.5" y2="415" stroke="#444" stroke-width="1"/>
<text x="27.0" y="417.09" font-size="7.4" text-anchor="end" fill="#333" stroke="#333" stroke-width="0.25" textLength="3.0" lengthAdjust="spacingAndGlyphs">0</text>
<line x1="29.3" y1="415.0" x2="31" y2="415.0" stroke="#444" stroke-width="0.8"/>
<text x="27.0" y="396.54" font-size="7.4" text-anchor="end" fill="#333" stroke="#333" stroke-width="0.25" textLength="3.0" lengthAdjust="spacingAndGlyphs">1</text>
<line x1="29.3" y1="394.45" x2="31" y2="394.45" stroke="#444" stroke-width="0.8"/>
<text x="27.0" y="375.99" font-size="7.4" text-anchor="end" fill="#333" stroke="#333" stroke-width="0.25" textLength="3.0" lengthAdjust="spacingAndGlyphs">2</text>
<line x1="29.3" y1="373.9" x2="31" y2="373.9" stroke="#444" stroke-width="0.8"/>
<text x="27.0" y="355.44" font-size="7.4" text-anchor="end" fill="#333" stroke="#333" stroke-width="0.25" textLength="3.0" lengthAdjust="spacingAndGlyphs">3</text>
<line x1="29.3" y1="353.35" x2="31" y2="353.35" stroke="#444" stroke-width="0.8"/>
<text x="27.0" y="334.89" font-size="7.4" text-anchor="end" fill="#333" stroke="#333" stroke-width="0.25" textLength="3.0" lengthAdjust="spacingAndGlyphs">4</text>
<line x1="29.3" y1="332.8" x2="31" y2="332.8" stroke="#444" stroke-width="0.8"/>
<text x="27.0" y="314.34" font-size="7.4" text-anchor="end" fill="#333" stroke="#333" stroke-width="0.25" textLength="3.0" lengthAdjust="spacingAndGlyphs">5</text>
<line x1="29.3" y1="312.25" x2="31" y2="312.25" stroke="#444" stroke-width="0.8"/>
<line x1="61.25" y1="415" x2="61.25" y2="416.7" stroke="#444" stroke-width="0.8"/>
<line x1="91.25" y1="415" x2="91.25" y2="416.7" stroke="#444" stroke-width="0.8"/>
<line x1="121.25" y1="415" x2="121.25" y2="416.7" stroke="#444" stroke-width="0.8"/>
<line x1="151.2" y1="415" x2="151.2" y2="416.7" stroke="#444" stroke-width="0.8"/>
<line x1="41.8" y1="400.1" x2="41.8" y2="406.5" stroke="#111" stroke-width="0.9"/>
<line x1="40.8" y1="400.1" x2="42.8" y2="400.1" stroke="#111" stroke-width="0.9"/>
<line x1="40.8" y1="406.5" x2="42.8" y2="406.5" stroke="#111" stroke-width="0.9"/>
<rect x="37.2" y="403.3" width="9.20" height="11.70" fill="#fff" stroke="#111" stroke-width="1"/>
<line x1="50.45" y1="408.1" x2="50.45" y2="410.1" stroke="#111" stroke-width="0.9"/>
<line x1="49.45" y1="408.1" x2="51.45" y2="408.1" stroke="#111" stroke-width="0.9"/>
<line x1="49.45" y1="410.1" x2="51.45" y2="410.1" stroke="#111" stroke-width="0.9"/>
<rect x="46.4" y="409.1" width="8.10" height="5.90" fill="#111" stroke="#111" stroke-width="1"/>
<line x1="71.5" y1="408.4" x2="71.5" y2="410.20000000000005" stroke="#111" stroke-width="0.9"/>
<line x1="70.5" y1="408.4" x2="72.5" y2="408.4" stroke="#111" stroke-width="0.9"/>
<line x1="70.5" y1="410.20000000000005" x2="72.5" y2="410.20000000000005" stroke="#111" stroke-width="0.9"/>
<rect x="67.2" y="409.3" width="8.60" height="5.70" fill="#fff" stroke="#111" stroke-width="1"/>
<line x1="79.85" y1="406.1" x2="79.85" y2="407.9" stroke="#111" stroke-width="0.9"/>
<line x1="78.85" y1="406.1" x2="80.85" y2="406.1" stroke="#111" stroke-width="0.9"/>
<line x1="78.85" y1="407.9" x2="80.85" y2="407.9" stroke="#111" stroke-width="0.9"/>
<rect x="75.8" y="407" width="8.10" height="8.00" fill="#111" stroke="#111" stroke-width="1"/>
<line x1="101.6" y1="388.4" x2="101.6" y2="394.0" stroke="#111" stroke-width="0.9"/>
<line x1="100.6" y1="388.4" x2="102.6" y2="388.4" stroke="#111" stroke-width="0.9"/>
<line x1="100.6" y1="394.0" x2="102.6" y2="394.0" stroke="#111" stroke-width="0.9"/>
<rect x="97.1" y="391.2" width="9.00" height="23.80" fill="#fff" stroke="#111" stroke-width="1"/>
<line x1="110.1" y1="362.1" x2="110.1" y2="376.29999999999995" stroke="#111" stroke-width="0.9"/>
<line x1="109.1" y1="362.1" x2="111.1" y2="362.1" stroke="#111" stroke-width="0.9"/>
<line x1="109.1" y1="376.29999999999995" x2="111.1" y2="376.29999999999995" stroke="#111" stroke-width="0.9"/>
<rect x="106.1" y="369.2" width="8.00" height="45.80" fill="#111" stroke="#111" stroke-width="1"/>
<line x1="131.7" y1="375.6" x2="131.7" y2="386.79999999999995" stroke="#111" stroke-width="0.9"/>
<line x1="130.7" y1="375.6" x2="132.7" y2="375.6" stroke="#111" stroke-width="0.9"/>
<line x1="130.7" y1="386.79999999999995" x2="132.7" y2="386.79999999999995" stroke="#111" stroke-width="0.9"/>
<rect x="127.3" y="381.2" width="8.80" height="33.80" fill="#fff" stroke="#111" stroke-width="1"/>
<line x1="140.0" y1="323.9" x2="140.0" y2="349.1" stroke="#111" stroke-width="0.9"/>
<line x1="139.0" y1="323.9" x2="141.0" y2="323.9" stroke="#111" stroke-width="0.9"/>
<line x1="139.0" y1="349.1" x2="141.0" y2="349.1" stroke="#111" stroke-width="0.9"/>
<rect x="136.1" y="336.5" width="7.80" height="78.50" fill="#111" stroke="#111" stroke-width="1"/>
<circle cx="110.20" cy="356.7" r="1.2" fill="#444"/>
<circle cx="138.10" cy="318.9" r="1.2" fill="#444"/>
<circle cx="142.10" cy="318.9" r="1.2" fill="#444"/>
<text x="44.6" y="427.07" font-size="8.2" text-anchor="middle" fill="#222" stroke="#222" stroke-width="0.25" textLength="9" lengthAdjust="spacingAndGlyphs">d0</text>
<text x="75" y="427.07" font-size="8.2" text-anchor="middle" fill="#222" stroke="#222" stroke-width="0.25" textLength="9" lengthAdjust="spacingAndGlyphs">d3</text>
<text x="105.6" y="427.07" font-size="8.2" text-anchor="middle" fill="#222" stroke="#222" stroke-width="0.25" textLength="9" lengthAdjust="spacingAndGlyphs">d5</text>
<text x="136.9" y="427.07" font-size="8.2" text-anchor="middle" fill="#222" stroke="#222" stroke-width="0.25" textLength="9" lengthAdjust="spacingAndGlyphs">d3</text>
<line x1="68.8" y1="431.2" x2="107.6" y2="431.2" stroke="#222" stroke-width="1"/>
<line x1="122" y1="431.2" x2="149" y2="431.2" stroke="#222" stroke-width="1"/>
<text x="88.75" y="441.33" font-size="7.8" text-anchor="middle" fill="#222" stroke="#222" stroke-width="0.25" textLength="35" lengthAdjust="spacingAndGlyphs">Injection 1</text>
<text x="134.1" y="441.33" font-size="7.8" text-anchor="middle" fill="#222" stroke="#222" stroke-width="0.25" textLength="35.7" lengthAdjust="spacingAndGlyphs">Injection 2</text>
<text transform="translate(17.55,361.60) rotate(-90)" x="0" y="0" font-size="7.3" text-anchor="middle" fill="#222" stroke="#222" stroke-width="0.25" textLength="72" lengthAdjust="spacingAndGlyphs">% of c-Kit+ cells in PB</text>
<rect x="63.6" y="320.7" width="5.30" height="5.90" fill="#fff" stroke="#111" stroke-width="1"/>
<rect x="64.2" y="330.2" width="4.50" height="5.00" fill="#111" stroke="#111" stroke-width="1"/>
<text x="72.7" y="326.10" font-size="8.0" text-anchor="start" fill="#222" stroke="#222" stroke-width="0.25" textLength="11.0" lengthAdjust="spacingAndGlyphs">Ctrl</text>
<text x="72.7" y="335.40" font-size="8.0" text-anchor="start" fill="#222" stroke="#222" stroke-width="0.25" textLength="9.5" lengthAdjust="spacingAndGlyphs">KO</text>
<text x="166.9" y="305.90" font-size="11" text-anchor="start" fill="#111" stroke="#111" stroke-width="0.3" font-weight="bold">I</text>
<line x1="201.5" y1="312" x2="201.5" y2="415" stroke="#444" stroke-width="1"/>
<line x1="201.5" y1="415" x2="318.8" y2="415" stroke="#444" stroke-width="1"/>
<text x="197.5" y="417.01" font-size="6.6" text-anchor="end" fill="#222" stroke="#222" stroke-width="0.25">0</text>
<line x1="199.8" y1="415.1" x2="201.5" y2="415.1" stroke="#444" stroke-width="0.8"/>
<text x="197.5" y="401.97" font-size="6.6" text-anchor="end" fill="#222" stroke="#222" stroke-width="0.25" textLength="16.0" lengthAdjust="spacingAndGlyphs">0.002</text>
<line x1="199.8" y1="400.41" x2="201.5" y2="400.41" stroke="#444" stroke-width="0.8"/>
<text x="197.5" y="386.93" font-size="6.6" text-anchor="end" fill="#222" stroke="#222" stroke-width="0.25" textLength="16.0" lengthAdjust="spacingAndGlyphs">0.004</text>
<line x1="199.8" y1="385.72" x2="201.5" y2="385.72" stroke="#444" stroke-width="0.8"/>
<text x="197.5" y="371.89" font-size="6.6" text-anchor="end" fill="#222" stroke="#222" stroke-width="0.25" textLength="16.0" lengthAdjust="spacingAndGlyphs">0.006</text>
<line x1="199.8" y1="371.03000000000003" x2="201.5" y2="371.03000000000003" stroke="#444" stroke-width="0.8"/>
<text x="197.5" y="356.85" font-size="6.6" text-anchor="end" fill="#222" stroke="#222" stroke-width="0.25" textLength="16.0" lengthAdjust="spacingAndGlyphs">0.008</text>
<line x1="199.8" y1="356.34000000000003" x2="201.5" y2="356.34000000000003" stroke="#444" stroke-width="0.8"/>
<text x="197.5" y="341.81" font-size="6.6" text-anchor="end" fill="#222" stroke="#222" stroke-width="0.25" textLength="16.0" lengthAdjust="spacingAndGlyphs">0.010</text>
<line x1="199.8" y1="341.65000000000003" x2="201.5" y2="341.65000000000003" stroke="#444" stroke-width="0.8"/>
<text x="197.5" y="326.77" font-size="6.6" text-anchor="end" fill="#222" stroke="#222" stroke-width="0.25" textLength="16.0" lengthAdjust="spacingAndGlyphs">0.012</text>
<line x1="199.8" y1="326.96000000000004" x2="201.5" y2="326.96000000000004" stroke="#444" stroke-width="0.8"/>
<text x="197.5" y="311.73" font-size="6.6" text-anchor="end" fill="#222" stroke="#222" stroke-width="0.25" textLength="16.0" lengthAdjust="spacingAndGlyphs">0.014</text>
<line x1="199.8" y1="312.27000000000004" x2="201.5" y2="312.27000000000004" stroke="#444" stroke-width="0.8"/>
<line x1="231" y1="415" x2="231" y2="416.7" stroke="#444" stroke-width="0.8"/>
<line x1="260.8" y1="415" x2="260.8" y2="416.7" stroke="#444" stroke-width="0.8"/>
<line x1="289.2" y1="415" x2="289.2" y2="416.7" stroke="#444" stroke-width="0.8"/>
<line x1="318.5" y1="415" x2="318.5" y2="416.7" stroke="#444" stroke-width="0.8"/>
<line x1="212.1" y1="403.3" x2="212.1" y2="410.90000000000003" stroke="#111" stroke-width="0.9"/>
<line x1="211.1" y1="403.3" x2="213.1" y2="403.3" stroke="#111" stroke-width="0.9"/>
<line x1="211.1" y1="410.90000000000003" x2="213.1" y2="410.90000000000003" stroke="#111" stroke-width="0.9"/>
<rect x="208.1" y="407.1" width="8.00" height="7.90" fill="#fff" stroke="#111" stroke-width="1"/>
<line x1="220.3" y1="410.6" x2="220.3" y2="412.79999999999995" stroke="#111" stroke-width="0.9"/>
<line x1="219.3" y1="410.6" x2="221.3" y2="410.6" stroke="#111" stroke-width="0.9"/>
<line x1="219.3" y1="412.79999999999995" x2="221.3" y2="412.79999999999995" stroke="#111" stroke-width="0.9"/>
<rect x="216.1" y="411.7" width="8.40" height="3.30" fill="#111" stroke="#111" stroke-width="1"/>
<line x1="241.85000000000002" y1="407.9" x2="241.85000000000002" y2="409.30000000000007" stroke="#111" stroke-width="0.9"/>
<line x1="240.85000000000002" y1="407.9" x2="242.85000000000002" y2="407.9" stroke="#111" stroke-width="0.9"/>
<line x1="240.85000000000002" y1="409.30000000000007" x2="242.85000000000002" y2="409.30000000000007" stroke="#111" stroke-width="0.9"/>
<rect x="237.8" y="408.6" width="8.10" height="6.40" fill="#fff" stroke="#111" stroke-width="1"/>
<line x1="249.75" y1="410.6" x2="249.75" y2="414.4" stroke="#111" stroke-width="0.9"/>
<line x1="248.75" y1="410.6" x2="250.75" y2="410.6" stroke="#111" stroke-width="0.9"/>
<line x1="248.75" y1="414.4" x2="250.75" y2="414.4" stroke="#111" stroke-width="0.9"/>
<rect x="245.9" y="412.5" width="7.70" height="2.50" fill="#111" stroke="#111" stroke-width="1"/>
<line x1="270.75" y1="386.3" x2="270.75" y2="393.7" stroke="#111" stroke-width="0.9"/>
<line x1="269.75" y1="386.3" x2="271.75" y2="386.3" stroke="#111" stroke-width="0.9"/>
<line x1="269.75" y1="393.7" x2="271.75" y2="393.7" stroke="#111" stroke-width="0.9"/>
<rect x="266.5" y="390" width="8.50" height="25.00" fill="#fff" stroke="#111" stroke-width="1"/>
<line x1="279.0" y1="353.5" x2="279.0" y2="375.5" stroke="#111" stroke-width="0.9"/>
<line x1="278.0" y1="353.5" x2="280.0" y2="353.5" stroke="#111" stroke-width="0.9"/>
<line x1="278.0" y1="375.5" x2="280.0" y2="375.5" stroke="#111" stroke-width="0.9"/>
<rect x="275" y="364.5" width="8.00" height="50.50" fill="#111" stroke="#111" stroke-width="1"/>
<line x1="299.3" y1="396.6" x2="299.3" y2="406.19999999999993" stroke="#111" stroke-width="0.9"/>
<line x1="298.3" y1="396.6" x2="300.3" y2="396.6" stroke="#111" stroke-width="0.9"/>
<line x1="298.3" y1="406.19999999999993" x2="300.3" y2="406.19999999999993" stroke="#111" stroke-width="0.9"/>
<rect x="295.0" y="401.4" width="8.60" height="13.60" fill="#fff" stroke="#111" stroke-width="1"/>
<line x1="308.05" y1="323.4" x2="308.05" y2="364.0" stroke="#111" stroke-width="0.9"/>
<line x1="307.05" y1="323.4" x2="309.05" y2="323.4" stroke="#111" stroke-width="0.9"/>
<line x1="307.05" y1="364.0" x2="309.05" y2="364.0" stroke="#111" stroke-width="0.9"/>
<rect x="303.6" y="343.7" width="8.90" height="71.30" fill="#111" stroke="#111" stroke-width="1"/>
<circle cx="279.00" cy="348.5" r="1.2" fill="#444"/>
<circle cx="306.35" cy="318" r="1.2" fill="#444"/>
<circle cx="310.25" cy="318" r="1.2" fill="#444"/>
<text x="212.5" y="425.27" font-size="8.2" text-anchor="middle" fill="#222" stroke="#222" stroke-width="0.25" textLength="9" lengthAdjust="spacingAndGlyphs">d0</text>
<text x="243.75" y="425.27" font-size="8.2" text-anchor="middle" fill="#222" stroke="#222" stroke-width="0.25" textLength="9" lengthAdjust="spacingAndGlyphs">d3</text>
<text x="273.7" y="425.27" font-size="8.2" text-anchor="middle" fill="#222" stroke="#222" stroke-width="0.25" textLength="9" lengthAdjust="spacingAndGlyphs">d5</text>
<text x="305" y="425.27" font-size="8.2" text-anchor="middle" fill="#222" stroke="#222" stroke-width="0.25" textLength="9" lengthAdjust="spacingAndGlyphs">d3</text>
<line x1="237.4" y1="430.8" x2="276.8" y2="430.8" stroke="#222" stroke-width="1"/>
<line x1="290.9" y1="430.8" x2="317.2" y2="430.8" stroke="#222" stroke-width="1"/>
<text x="257.4" y="440.93" font-size="7.8" text-anchor="middle" fill="#222" stroke="#222" stroke-width="0.25" textLength="35.6" lengthAdjust="spacingAndGlyphs">Injection 1</text>
<text x="302.4" y="440.93" font-size="7.8" text-anchor="middle" fill="#222" stroke="#222" stroke-width="0.25" textLength="35.2" lengthAdjust="spacingAndGlyphs">Injection 2</text>
<text transform="translate(172.85,361.10) rotate(-90)" x="0" y="0" font-size="7.0" text-anchor="middle" fill="#222" stroke="#222" stroke-width="0.25" textLength="61.6" lengthAdjust="spacingAndGlyphs">% of LSK cells in PB</text>
<rect x="218.6" y="317.7" width="5.50" height="5.80" fill="#fff" stroke="#111" stroke-width="1"/>
<rect x="218.9" y="327.3" width="5.10" height="5.20" fill="#111" stroke="#111" stroke-width="1"/>
<text x="227.8" y="323.10" font-size="8.0" text-anchor="start" fill="#222" stroke="#222" stroke-width="0.25" textLength="11.6" lengthAdjust="spacingAndGlyphs">Ctrl</text>
<text x="227.8" y="332.60" font-size="8.0" text-anchor="start" fill="#222" stroke="#222" stroke-width="0.25" textLength="9.9" lengthAdjust="spacingAndGlyphs">KO</text>
</svg>
</body></html>
